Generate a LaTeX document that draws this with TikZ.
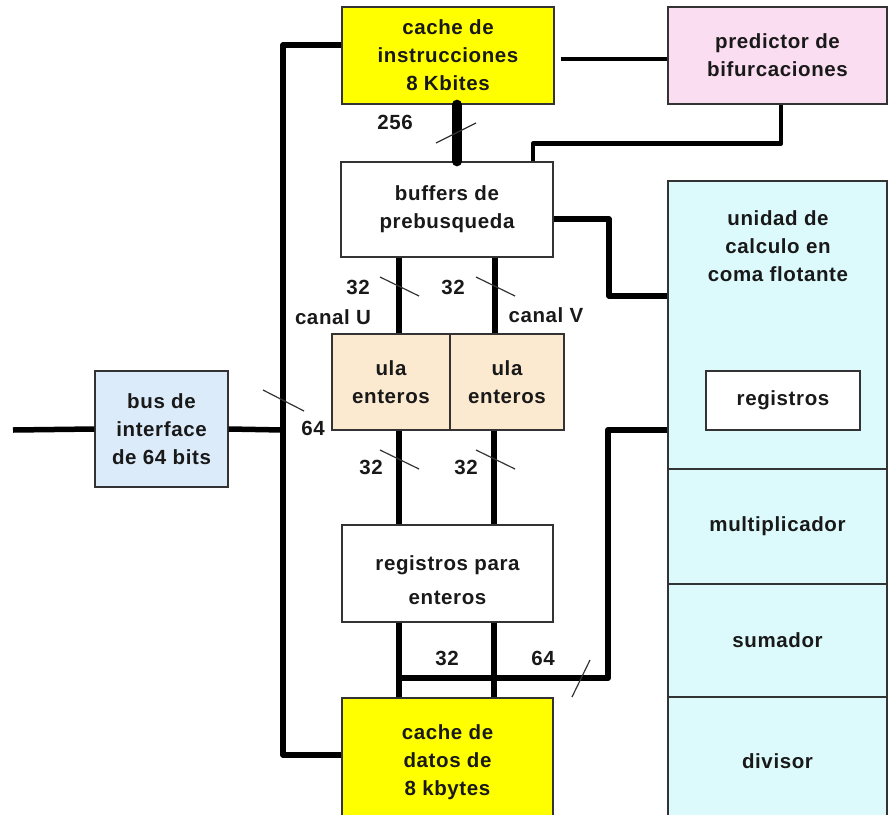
\documentclass[tikz,border=0pt]{standalone}
\usepackage{fontspec}
\setmainfont{Liberation Sans}[LetterSpace=3]
\definecolor{cyellow}{HTML}{FFFF00}
\definecolor{cpink}{HTML}{FBDDF1}
\definecolor{cpeach}{HTML}{FCEAD0}
\definecolor{cblue}{HTML}{DCEBFA}
\definecolor{ccyan}{HTML}{DCFAFC}
\definecolor{edge}{HTML}{333333}
\begin{document}
\begin{tikzpicture}[x=1pt,y=-1pt,
  txt/.style={font=\fontsize{20.5}{28}\selectfont\bfseries, text=black!90, align=center},
  blk/.style={draw=edge, line width=1.3pt, txt, inner sep=0pt},
  bus/.style={line width=5.5pt, line join=round},
  midbus/.style={line width=4.5pt, line join=round},
  fatbus/.style={line width=10pt, line cap=round},
  tick/.style={line width=1.2pt, black!80},
  lbl/.style={txt, inner sep=0pt}]
\useasboundingbox (0,0) rectangle (888,814);

% functional blocks
\node[blk, fill=cyellow, minimum width=212pt, minimum height=97pt] (cinstr) at (448,55.5) {cache de\\instrucciones\\8 Kbites};
\node[blk, fill=cpink, minimum width=219pt, minimum height=97pt] (pred) at (777.5,55.5) {predictor de\\bifurcaciones};
\node[blk, fill=white, minimum width=212pt, minimum height=95pt] (buf) at (447,209.5) {buffers de\\prebusqueda};
\node[blk, fill=cpeach, minimum width=118pt, minimum height=96pt] (ulaL) at (391,382) {ula\\enteros};
\node[blk, fill=cpeach, minimum width=114pt, minimum height=96pt] (ulaR) at (507,382) {ula\\enteros};
\node[blk, fill=cblue, minimum width=133pt, minimum height=116pt] (bus) at (161.5,429) {bus de\\interface\\de 64 bits};
\node[blk, fill=white, minimum width=211pt, minimum height=97pt] (regs) at (447.5,573.5) {};
\node[lbl] (regstxt) at (447.5,580) {registros para\\[6pt]enteros};
\node[blk, fill=cyellow, minimum width=211pt, minimum height=128pt] (cdatos) at (447.5,762) {cache de\\datos de\\8 kbytes};

% floating point unit
\node[blk, fill=ccyan, minimum width=219pt, minimum height=288pt] (fputop) at (777.5,325) {};
\node[lbl] (fputitle) at (778,246) {unidad de\\calculo en\\coma flotante};
\node[blk, fill=white, minimum width=154pt, minimum height=59pt] (fpureg) at (783,400.5) {registros};
\node[blk, fill=ccyan, minimum width=219pt, minimum height=115pt] (mult) at (777.5,526.5) {multiplicador};
\node[blk, fill=ccyan, minimum width=219pt, minimum height=113pt] (suma) at (777.5,640.5) {sumador};
\node[blk, fill=ccyan, minimum width=219pt, minimum height=129pt] (divi) at (777.5,761.5) {divisor};

% bus junctions
\coordinate (busin) at (13,430);
\coordinate (lb) at (283,430);
\coordinate (j1) at (399,678);
\coordinate (j2) at (608,678);

% system bus on the left
\draw[bus] (cinstr.west |- 0,45) -| (lb) |- (cdatos.west |- 0,755);
\draw[bus] (bus.east) -- (lb);
\draw[bus] (busin) -- (bus.west);

% instruction side
\draw[midbus, shorten <=6pt] (cinstr.east |- 0,59) -- (pred.west |- 0,59);
\draw[midbus] (pred.south -| 781,0) -- ++(0,39) -| (buf.north -| 533,0);
\draw[fatbus] (cinstr.south -| 457,0) -- (buf.north -| 457,0);
\draw[bus] (buf.east |- 0,219) -| (609,296) -- (fputop.west |- 0,296);

% integer pipes
\draw[bus] (buf.south -| 399,0) -- (ulaL.north -| 399,0);
\draw[bus] (buf.south -| 495,0) -- (ulaR.north -| 495,0);
\draw[bus] (ulaL.south -| 399,0) -- (regs.north -| 399,0);
\draw[bus] (ulaR.south -| 494,0) -- (regs.north -| 494,0);
\draw[bus] (regs.south -| 399,0) -- (cdatos.north -| 399,0);
\draw[bus] (regs.south -| 494,0) -- (cdatos.north -| 494,0);
\draw[line width=6pt, line join=round] (j1) -- (j2) -- (j2 |- 0,430) -- (fputop.west |- 0,430);

% bus width ticks
\draw[tick] (436,143) -- (476,123);
\draw[tick] (380,277) -- (419,296);
\draw[tick] (476,277) -- (515,296);
\draw[tick] (263,390) -- (304,411);
\draw[tick] (380,450) -- (419,469);
\draw[tick] (476,450) -- (515,469);
\draw[tick] (572,697) -- (590,660);

% width labels
\node[lbl] (w256) at (395,122) {256};
\node[lbl] (w32a) at (358,287) {32};
\node[lbl] (w32b) at (453,287) {32};
\node[lbl] (cu) at (333,317) {canal U};
\node[lbl] (cv) at (546,315) {canal V};
\node[lbl] (w64a) at (313,428) {64};
\node[lbl] (w32c) at (371,467) {32};
\node[lbl] (w32d) at (466,467) {32};
\node[lbl] (w32e) at (447,658) {32};
\node[lbl] (w64b) at (543,658) {64};
\end{tikzpicture}
\end{document}
